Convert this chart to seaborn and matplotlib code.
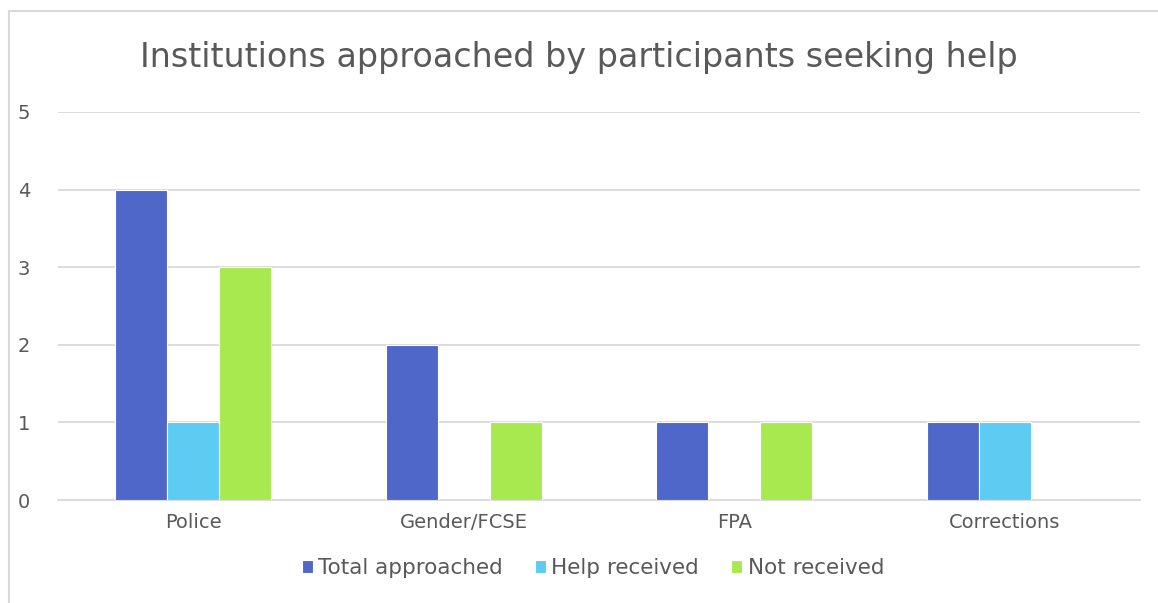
import matplotlib
matplotlib.use("Agg")
import matplotlib.pyplot as plt
import seaborn as sns
import pandas as pd
from matplotlib.patches import Rectangle

institutions = ["Police", "Gender/FCSE", "FPA", "Corrections"]
total_approached = [4, 2, 1, 1]
help_received = [1, 0, 0, 1]
not_received = [3, 1, 1, 0]
series_names = ["Total approached", "Help received", "Not received"]
colors = ["#4F67C9", "#5CCCF2", "#A8E94F"]

df = pd.DataFrame({
    "Institution": institutions * 3,
    "Series": [s for s in series_names for _ in institutions],
    "Count": total_approached + help_received + not_received,
})

sns.set_theme(style="white")
plt.rcParams["font.family"] = ["DejaVu Sans"]
text_color = "#595959"
grid_color = "#D9D9D9"

fig = plt.figure(figsize=(11.58, 6.03), dpi=100)
ax = fig.add_axes([58 / 1158, 1 - 500 / 603, (1140 - 58) / 1158, (500 - 112) / 603])

sns.barplot(data=df, x="Institution", y="Count", hue="Series",
            palette=colors, width=0.577, edgecolor="white", linewidth=0.8,
            saturation=1, ax=ax, legend=True, zorder=3)

ax.set_ylim(0, 5)
ax.set_yticks(range(0, 6))
ax.set_xlim(-0.5, 3.5)
ax.yaxis.grid(True, color=grid_color, linewidth=1.3, zorder=0)
ax.set_axisbelow(True)
for side in ["left", "right", "top"]:
    ax.spines[side].set_visible(False)
ax.spines["bottom"].set_color(grid_color)
ax.spines["bottom"].set_linewidth(1.3)
ax.tick_params(axis="both", length=0, labelsize=14, colors=text_color)
ax.tick_params(axis="y", pad=20)
ax.tick_params(axis="x", pad=9)
ax.set_xlabel("")
ax.set_ylabel("")

handles, labels = ax.get_legend_handles_labels()
ax.legend_.remove()
fig.legend(handles, labels, loc="center", bbox_to_anchor=(593 / 1158, 1 - 568 / 603),
           ncol=3, frameon=False, fontsize=15.5, labelcolor=text_color,
           handlelength=0.5, handleheight=0.6, handletextpad=0.25,
           columnspacing=1.5)

fig.text(0.5, 1 - 57 / 603, "Institutions approached by participants seeking help",
         ha="center", va="center", fontsize=24, color=text_color)

# outer chart frame
fig.patches.append(Rectangle((8.5 / 1158, -0.05), 1.2, 1 - 10.5 / 603 + 0.05,
                             transform=fig.transFigure, fill=False,
                             edgecolor="#D9D9D9", linewidth=1.5))

fig.savefig("out.png", dpi=100)
